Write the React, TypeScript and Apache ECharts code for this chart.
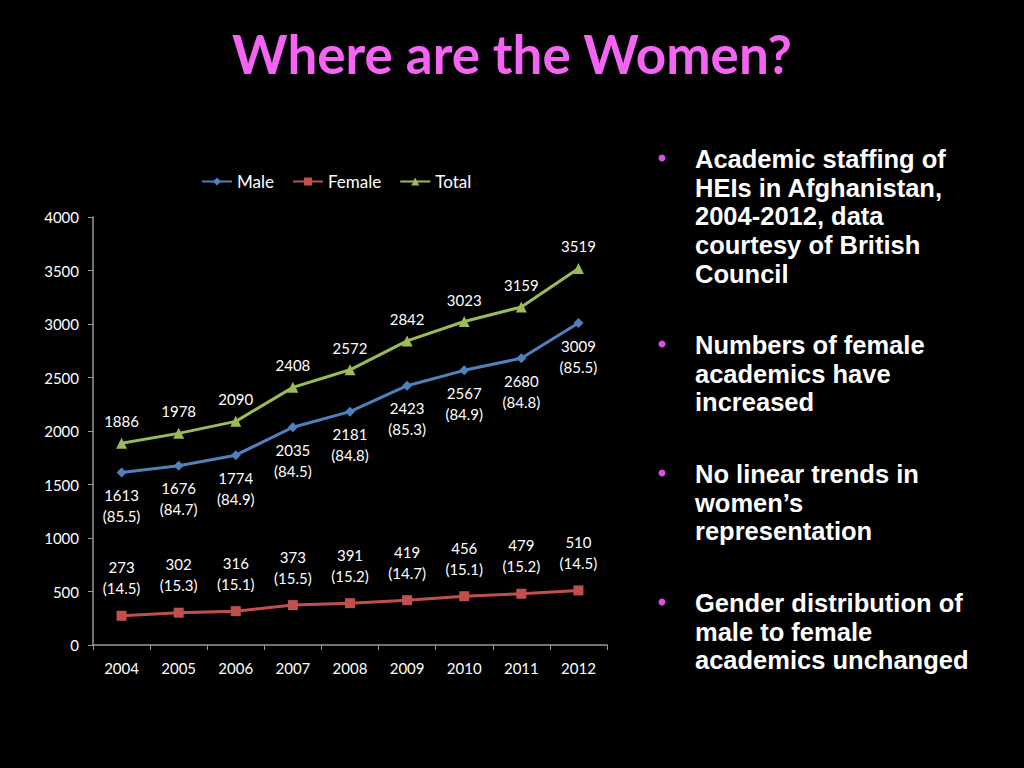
import React, { useEffect, useRef } from "react";
import * as echarts from "echarts";

const years = ["2004", "2005", "2006", "2007", "2008", "2009", "2010", "2011", "2012"];
const male = [1613, 1676, 1774, 2035, 2181, 2423, 2567, 2680, 3009];
const malePct = ["85.5", "84.7", "84.9", "84.5", "84.8", "85.3", "84.9", "84.8", "85.5"];
const female = [273, 302, 316, 373, 391, 419, 456, 479, 510];
const femalePct = ["14.5", "15.3", "15.1", "15.5", "15.2", "14.7", "15.1", "15.2", "14.5"];
const total = [1886, 1978, 2090, 2408, 2572, 2842, 3023, 3159, 3519];

const bullets = [
  ["Academic staffing of", "HEIs in Afghanistan,", "2004-2012, data", "courtesy of British", "Council"],
  ["Numbers of female", "academics have", "increased"],
  ["No linear trends in", "women\u2019s", "representation"],
  ["Gender distribution of", "male to female", "academics unchanged"],
];
const bulletTops = [159, 345, 474, 603];

const FONT = "Lato, 'Open Sans', sans-serif";
const BULLET_FONT = "'Liberation Sans', Arial, sans-serif";

export default function App() {
  const ref = useRef<HTMLDivElement>(null);
  useEffect(() => {
    document.body.style.margin = "0";
    document.body.style.background = "#000";
    const chart = echarts.init(ref.current!, null, { renderer: "svg" });
    const graphics: any[] = [
      {
        type: "text",
        x: 512,
        y: 53,
        style: {
          text: "Where are the Women?",
          fill: "#F564F5",
          font: `bold 53px ${FONT}`,
          align: "center",
          verticalAlign: "middle",
        },
      },
    ];
    bullets.forEach((lines, i) => {
      graphics.push({
        type: "circle",
        shape: { cx: 662, cy: bulletTops[i] - 1, r: 3.5 },
        style: { fill: "#D94FE8" },
      });
      graphics.push({
        type: "text",
        x: 695,
        y: bulletTops[i] - 14.35,
        style: {
          text: lines.join("\n"),
          fill: "#fff",
          font: `bold 25.5px ${BULLET_FONT}`,
          lineHeight: 28.7,
          verticalAlign: "top",
        },
      });
    });
    const labelStyle = { color: "#fff", fontSize: 15, fontFamily: FONT, lineHeight: 21 };
    chart.setOption({
      animation: false,
      backgroundColor: "#000",
      graphic: graphics,
      legend: {
        top: 168,
        left: 196,
        itemWidth: 30,
        itemHeight: 10,
        itemGap: 18,
        textStyle: { color: "#fff", fontSize: 17, fontFamily: FONT },
        data: ["Male", "Female", "Total"],
      },
      grid: { left: 93, right: 417, top: 217, bottom: 123 },
      xAxis: {
        type: "category",
        data: years,
        boundaryGap: true,
        axisLine: { lineStyle: { color: "#999", width: 1.5 } },
        axisTick: { show: true, length: 5, alignWithLabel: false, lineStyle: { color: "#999" } },
        axisLabel: { color: "#fff", fontSize: 15, fontFamily: FONT, margin: 15 },
      },
      yAxis: {
        type: "value",
        min: 0,
        max: 4000,
        interval: 500,
        axisLine: { show: true, lineStyle: { color: "#999", width: 1.5 } },
        axisTick: { show: true, length: 5, lineStyle: { color: "#999" } },
        splitLine: { show: false },
        axisLabel: {
          color: "#fff",
          fontSize: 15,
          fontFamily: FONT,
          margin: 14,
          formatter: (v: number) => String(v),
        },
      },
      series: [
        {
          name: "Male",
          type: "line",
          data: male,
          color: "#4F81BD",
          symbol: "diamond",
          symbolSize: 10,
          lineStyle: { width: 3 },
          label: {
            show: true,
            position: "bottom",
            distance: 7,
            ...labelStyle,
            formatter: (p: any) => `${male[p.dataIndex]}\n(${malePct[p.dataIndex]})`,
          },
        },
        {
          name: "Female",
          type: "line",
          data: female,
          color: "#C0504D",
          symbol: "rect",
          symbolSize: 10,
          lineStyle: { width: 3 },
          label: {
            show: true,
            position: "top",
            distance: 12,
            ...labelStyle,
            formatter: (p: any) => `${female[p.dataIndex]}\n(${femalePct[p.dataIndex]})`,
          },
        },
        {
          name: "Total",
          type: "line",
          data: total,
          color: "#9BBB59",
          symbol: "triangle",
          symbolSize: 11,
          lineStyle: { width: 3 },
          label: {
            show: true,
            position: "top",
            distance: 6,
            ...labelStyle,
          },
        },
      ],
    });
    return () => chart.dispose();
  }, []);
  return <div ref={ref} style={{ width: 1024, height: 768, background: "#000" }} />;
}
